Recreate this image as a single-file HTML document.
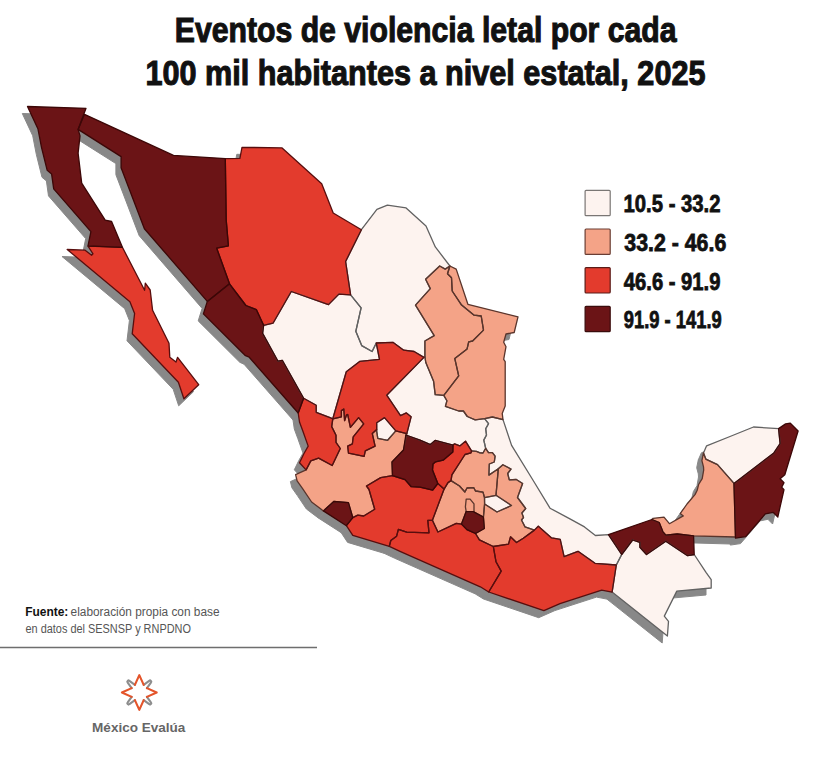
<!DOCTYPE html>
<html><head><meta charset="utf-8"><title>Eventos de violencia letal</title>
<style>
html,body{margin:0;padding:0;background:#fff;}
body{width:828px;height:767px;overflow:hidden;}
svg{display:block;}
</style></head><body>
<svg width="828" height="767" viewBox="0 0 828 767">
<rect width="828" height="767" fill="#fff"/>
<g font-family="'Liberation Sans', sans-serif" font-weight="bold" font-size="35.5" fill="#111" stroke="#111" stroke-width="1.1">
<text x="174.83" y="41.9" textLength="501.73" lengthAdjust="spacingAndGlyphs">Eventos de violencia letal por cada</text>
<text x="145.52" y="84.6" textLength="559.98" lengthAdjust="spacingAndGlyphs">100 mil habitantes a nivel estatal, 2025</text>
</g>
<g fill="#888" stroke="#888" stroke-width="1" stroke-linejoin="round" transform="translate(-5.2,7)">
<polygon points="27.5,106.5 86,108.3 78.1,129.4 80,135.9 78.1,153.1 81.7,183.2 105.2,220.1 111.6,221.5 122.4,247.3 88,245.8 90.9,231.6 53.7,188.9 51.6,173.9 47.2,170.3 41.5,147.3 37.9,128.7"/>
<polygon points="67.2,249.5 85.1,250.2 91.6,255.2 93,253.8 88,246.2 122.4,247.3 144.6,290.3 145.3,283.2 150.2,290 152.6,310.3 169,343.2 169.8,357.3 176,362 177.6,357.3 198.7,384.7 183.9,398.8 178.4,382.3 132.2,333.8 134.6,313.5 129.9,301.7"/>
<polygon points="84.5,114.3 173.5,155.4 225.3,158.6 226.2,220 228.4,245.8 216.7,248.2 229.5,283.8 207.3,301.4 144.4,228.7 121.1,167.7 121.1,156.6 78.1,129.4"/>
<polygon points="225.3,158.6 239.9,158.4 242,147.3 282.1,147.9 321.7,183.8 333.2,213 361.4,229.7 345.6,261.5 350.6,294.8 338.9,294.1 328.5,304.6 291.3,291.5 273,323.2 263.6,325.3 256.3,309.6 245.9,305.5 229.5,283.8 216.7,248.2 228.4,245.8 226.2,220"/>
<polygon points="207.3,301.4 229.5,283.8 245.9,305.5 256.3,309.6 263.6,325.3 262.6,333.4 278,361.2 282.3,360.3 303.6,398.2 298.2,413 249.2,357.2 245,355.3 203.4,313.9"/>
<polygon points="263.6,325.3 273,323.2 291.3,291.5 328.5,304.6 338.9,294.1 350.6,294.8 361.1,307.8 355.8,331.3 361.7,345.6 372.1,351.5 376.3,343 379.5,359.3 360,361.3 346.3,371.7 332.8,418.8 330,417.7 316.2,412.3 316.2,405.2 303.6,398.2 282.3,360.3 278,361.2 262.6,333.4"/>
<polygon points="361.4,229.7 376.9,209.4 387.4,205.2 406.1,207.9 426,226.1 435.3,246.9 449.9,266 445.2,269.1 439.7,266 425.6,279.2 430.3,288.6 415.5,305.1 434.2,335.6 424.9,341 424.9,356.7 423.9,357.4 414.1,351.5 403.7,350.2 393.2,342.4 376.3,343 372.1,351.5 361.7,345.6 355.8,331.3 361.1,307.8 350.6,294.8 345.6,261.5"/>
<polygon points="439.7,266 445.2,269.1 449.9,266 447.5,273.8 451.5,277.7 452.2,291 461.6,305.1 474.1,315.2 481.2,316 483.5,330.1 472.6,341 468.7,341.8 467.1,348.9 454.8,358.6 458.7,375.8 443.8,395.4 435.2,394.6 433.6,381.3 425.8,362.5 424.9,356.7 424.9,341 434.2,335.6 415.5,305.1 430.3,288.6 425.6,279.2"/>
<polygon points="449.9,266 456.2,269.1 467.9,304.3 518,316.8 514.2,332.5 506,334 503.7,342.2 506,346.7 503.7,359.4 505.2,361.7 505.2,405.9 502.2,413.4 503,419.6 492.4,417 484.6,418.6 475.2,419.8 467.3,416.5 463.4,411 458.7,411 445.4,406.3 446.9,400.8 443.8,395.4 458.7,375.8 454.8,358.6 467.1,348.9 468.7,341.8 472.6,341 483.5,330.1 481.2,316 474.1,315.2 461.6,305.1 452.2,291 451.5,277.7 447.5,273.8"/>
<polygon points="423.9,357.4 424.9,356.7 425.8,362.5 433.6,381.3 435.2,394.6 443.8,395.4 446.9,400.8 445.4,406.3 458.7,411 463.4,411 467.3,416.5 475.2,419.8 484.6,418.6 488.5,423.7 485.7,428.8 486.5,435 483.8,440.1 485.7,448.3 483,453 480,452.9 476.5,451.4 471.5,450.8 465.5,441.2 459.8,445.9 454.6,443.8 453,445.1 435.1,440.4 430.4,444.6 420,440.2 405.8,435 406.8,433.6 411.1,416.8 406.4,412.9 400.5,415.6 386.7,395.2"/>
<polygon points="376.3,343 393.2,342.4 403.7,350.2 414.1,351.5 423.9,357.4 386.7,395.2 400.5,415.6 406.4,412.9 411.1,416.8 406.8,433.6 395.8,430.9 384.5,417.6 376.7,422.7 376.7,429.5 372.3,433.6 375.1,446.2 365.3,450.9 364.1,456.3 348.5,453.2 347.7,446.2 352.4,443.8 353.2,436.8 363.7,423.9 358.6,417.6 350.4,427.4 347.7,414.5 346.5,414.9 344.6,420.7 343.8,409 341.4,410.6 341.4,416.8 332.8,418.8 346.3,371.7 360,361.3 379.5,359.3"/>
<polygon points="376.7,422.7 384.5,417.6 395.8,430.9 387.6,440.3 377.8,438.3 376.7,431.3"/>
<polygon points="303.6,398.2 316.2,405.2 316.2,412.3 330,417.7 332.8,418.8 331.7,426.6 336,435.2 336,442.3 340.3,448.5 332.2,465.5 318.6,458.1 310.8,460.9 306.1,469.9 299.5,462.8 304,453.5 308.2,446.1 303,431.5 299.5,422 298.2,413"/>
<polygon points="306.1,469.9 310.8,460.9 318.6,458.1 332.2,465.5 340.3,448.5 336,442.3 336,435.2 331.7,426.6 332.8,418.8 341.4,416.8 341.4,410.6 343.8,409 344.6,420.7 346.5,414.9 347.7,414.5 350.4,427.4 358.6,417.6 363.7,423.9 353.2,436.8 352.4,443.8 347.7,446.2 348.5,453.2 364.1,456.3 365.3,450.9 375.1,446.2 372.3,433.6 376.7,429.5 376.7,431.3 377.8,438.3 387.6,440.3 395.8,430.9 406.8,433.6 403.5,450 392,462 392.5,475.7 380.7,477.6 366.5,486 369,489.5 374.7,509.2 363.7,516 357.8,515.1 352.8,517.7 348.4,502.6 333.8,501.5 323.4,510.9 311.6,502 302.6,488.6 297.1,480.8 295.6,474.6"/>
<polygon points="323.4,510.9 333.8,501.5 348.4,502.6 352.8,517.7 346.4,525.7"/>
<polygon points="346.4,525.7 352.8,517.7 357.8,515.1 363.7,516 374.7,509.2 369,489.5 366.5,486 380.7,477.6 392.5,475.7 405,479.6 411.3,486.7 420,487.2 432.7,490.1 437.8,483.5 444.1,489.1 432.4,520.3 427.8,520.4 429,532.8 406.7,532.2 398.4,529.3 396.6,536.2 390.8,540.5 389.3,546.3 352.8,535.4"/>
<polygon points="405.8,435 420,440.2 430.4,444.6 435.1,440.4 453,445.1 452.8,451.9 443.1,460.2 435.6,461.8 433,463.9 432.5,470 437.8,483.5 432.7,490.1 420,487.2 411.3,486.7 405,479.6 392.5,475.7 392,462 403.5,450"/>
<polygon points="453,445.1 454.6,443.8 459.8,445.9 465.5,441.2 471.5,450.8 471,452.9 465,454.5 451.9,474.8 451,480.6 448,482.6 444.1,489.1 437.8,483.5 432.5,470 433,463.9 435.6,461.8 443.1,460.2 452.8,451.9"/>
<polygon points="471.5,450.8 476.5,451.4 480,452.9 483,453 485.7,448.3 488.5,452.6 492.4,452.6 495.1,456.2 494.3,462 489.3,464 488.9,475.1 498.3,468.8 496,495.4 484.5,497.6 483,492.2 475.5,491 473.8,487.7 467,488 464.9,492 459.5,486 451,480.6 451.9,474.8 465,454.5 471,452.9"/>
<polygon points="484.6,418.6 492.4,417 503,419.6 511.6,445.4 532.9,480 550,508.2 570.4,519.1 584.5,526.9 595.4,535.5 608.5,534.6 621.7,554.5 616.3,565 595,563.3 578,551.3 564.1,556.7 560.2,539.4 551.6,537.9 538.3,526.2 534.4,530.1 525,526.9 521.5,520 523.5,517.5 521.9,513 525.7,508.5 517.5,497.5 522.6,483.5 516.3,479.5 509.3,479.8 507.7,473.5 511,469 502.9,464.7 498.3,468.8 488.9,475.1 489.3,464 494.3,462 495.1,456.2 492.4,452.6 488.5,452.6 485.7,448.3 483.8,440.1 486.5,435 485.7,428.8 488.5,423.7"/>
<polygon points="498.3,468.8 502.9,464.7 511,469 507.7,473.5 509.3,479.8 516.3,479.5 522.6,483.5 517.5,497.5 525.7,508.5 521.9,513 523.5,517.5 521.5,520 525,526.9 534.4,530.1 523.3,538.2 516.5,542.5 510.5,536.8 508.5,544.2 493.3,546.5 479.4,539.8 475.5,533.5 484.3,528.5 483.4,517.1 484.6,504 497,512 511.5,505.5 496,495.3"/>
<polygon points="448,482.6 451,480.6 459.5,486 464.9,492 467,488 473.8,487.7 475.5,491 483,492.2 484.5,497.6 484.6,504 483.4,517.1 473.2,511.6 466.2,511.6 461.5,524.1 456.3,523.4 437.9,532 432.4,520.3 444.1,489.1"/>
<polygon points="466.2,499.1 470.1,499.1 474,503.8 474,511.6 466.2,511.6 465.4,506.9"/>
<polygon points="466.2,511.6 473.2,511.6 483.4,517.1 484.3,528.5 475.5,533.5 466.9,529.6 461.5,524.1"/>
<polygon points="484.5,497.6 496,495.3 511.5,505.5 497,512 484.6,504"/>
<polygon points="389.3,546.3 390.8,540.5 396.6,536.2 398.4,529.3 406.7,532.2 429,532.8 427.8,520.4 432.4,520.3 437.9,532 456.3,523.4 461.5,524.1 466.9,529.6 475.5,533.5 479.4,539.8 493.3,546.5 496,561.7 501.2,571.1 488.7,592 480.3,586.8 400,551.3"/>
<polygon points="493.3,546.5 508.5,544.2 510.5,536.8 516.5,542.5 523.3,538.2 534.4,530.1 538.3,526.2 551.6,537.9 560.2,539.4 564.1,556.7 578,551.3 595,563.3 616.3,565 612.1,592.1 601.7,590.1 560,603.6 543.9,610.7 488.7,592 501.2,571.1 496,561.7"/>
<polygon points="608.5,534.6 651.9,519.5 659.2,522.5 662.8,531.6 665.8,535.2 677.3,534 693.6,535.8 694.2,554.5 687.6,555.7 665.8,541.2 646.5,554.5 639.9,547.3 639.9,542.4 632.6,540 621.7,554.5"/>
<polygon points="616.3,565 621.7,554.5 632.6,540 639.9,542.4 639.9,547.3 646.5,554.5 665.8,541.2 687.6,555.7 694.2,554.5 706,572.3 711.2,579.6 711.2,588 676.8,591.1 664.3,616.1 668.5,621.4 667.4,636 612.1,592.1"/>
<polygon points="703.5,452.9 705.8,459.1 717.5,464.6 734,483.4 735.5,537 693.6,535.8 677.3,534 665.8,535.2 662.8,531.6 659.2,522.5 651.9,519.5 653.1,518.3 664,517.1 669.4,523.7 683.3,515.9 680.3,513.5 687,504 695,494.6 697.2,490.3 698.6,484.5 702.2,478.7 703.7,470 703.5,466.9 701.9,460.7"/>
<polygon points="706.6,445.8 730,436.5 753.5,427 778.6,428.6 780.1,443.5 773.9,452.9 734,483.4 717.5,464.6 705.8,459.1 703.5,452.9"/>
<polygon points="778.6,428.6 785.6,423.9 790.3,423.1 798.1,431 784.8,474.8 780.1,478.7 784,482.6 781.7,487.3 784,489.6 777.8,517 773.1,512.3 765.3,513.9 745.7,536.6 735.5,538.1 734,483.4 773.9,452.9 780.1,443.5"/>
</g>
<g>
<polygon fill="#6b1416" points="27.5,106.5 86,108.3 78.1,129.4 80,135.9 78.1,153.1 81.7,183.2 105.2,220.1 111.6,221.5 122.4,247.3 88,245.8 90.9,231.6 53.7,188.9 51.6,173.9 47.2,170.3 41.5,147.3 37.9,128.7"/>
<polygon fill="#e33b2d" points="67.2,249.5 85.1,250.2 91.6,255.2 93,253.8 88,246.2 122.4,247.3 144.6,290.3 145.3,283.2 150.2,290 152.6,310.3 169,343.2 169.8,357.3 176,362 177.6,357.3 198.7,384.7 183.9,398.8 178.4,382.3 132.2,333.8 134.6,313.5 129.9,301.7"/>
<polygon fill="#6b1416" points="84.5,114.3 173.5,155.4 225.3,158.6 226.2,220 228.4,245.8 216.7,248.2 229.5,283.8 207.3,301.4 144.4,228.7 121.1,167.7 121.1,156.6 78.1,129.4"/>
<polygon fill="#e33b2d" points="225.3,158.6 239.9,158.4 242,147.3 282.1,147.9 321.7,183.8 333.2,213 361.4,229.7 345.6,261.5 350.6,294.8 338.9,294.1 328.5,304.6 291.3,291.5 273,323.2 263.6,325.3 256.3,309.6 245.9,305.5 229.5,283.8 216.7,248.2 228.4,245.8 226.2,220"/>
<polygon fill="#6b1416" points="207.3,301.4 229.5,283.8 245.9,305.5 256.3,309.6 263.6,325.3 262.6,333.4 278,361.2 282.3,360.3 303.6,398.2 298.2,413 249.2,357.2 245,355.3 203.4,313.9"/>
<polygon fill="#fdf3ef" points="263.6,325.3 273,323.2 291.3,291.5 328.5,304.6 338.9,294.1 350.6,294.8 361.1,307.8 355.8,331.3 361.7,345.6 372.1,351.5 376.3,343 379.5,359.3 360,361.3 346.3,371.7 332.8,418.8 330,417.7 316.2,412.3 316.2,405.2 303.6,398.2 282.3,360.3 278,361.2 262.6,333.4"/>
<polygon fill="#fdf3ef" points="361.4,229.7 376.9,209.4 387.4,205.2 406.1,207.9 426,226.1 435.3,246.9 449.9,266 445.2,269.1 439.7,266 425.6,279.2 430.3,288.6 415.5,305.1 434.2,335.6 424.9,341 424.9,356.7 423.9,357.4 414.1,351.5 403.7,350.2 393.2,342.4 376.3,343 372.1,351.5 361.7,345.6 355.8,331.3 361.1,307.8 350.6,294.8 345.6,261.5"/>
<polygon fill="#f4a387" points="439.7,266 445.2,269.1 449.9,266 447.5,273.8 451.5,277.7 452.2,291 461.6,305.1 474.1,315.2 481.2,316 483.5,330.1 472.6,341 468.7,341.8 467.1,348.9 454.8,358.6 458.7,375.8 443.8,395.4 435.2,394.6 433.6,381.3 425.8,362.5 424.9,356.7 424.9,341 434.2,335.6 415.5,305.1 430.3,288.6 425.6,279.2"/>
<polygon fill="#f4a387" points="449.9,266 456.2,269.1 467.9,304.3 518,316.8 514.2,332.5 506,334 503.7,342.2 506,346.7 503.7,359.4 505.2,361.7 505.2,405.9 502.2,413.4 503,419.6 492.4,417 484.6,418.6 475.2,419.8 467.3,416.5 463.4,411 458.7,411 445.4,406.3 446.9,400.8 443.8,395.4 458.7,375.8 454.8,358.6 467.1,348.9 468.7,341.8 472.6,341 483.5,330.1 481.2,316 474.1,315.2 461.6,305.1 452.2,291 451.5,277.7 447.5,273.8"/>
<polygon fill="#fdf3ef" points="423.9,357.4 424.9,356.7 425.8,362.5 433.6,381.3 435.2,394.6 443.8,395.4 446.9,400.8 445.4,406.3 458.7,411 463.4,411 467.3,416.5 475.2,419.8 484.6,418.6 488.5,423.7 485.7,428.8 486.5,435 483.8,440.1 485.7,448.3 483,453 480,452.9 476.5,451.4 471.5,450.8 465.5,441.2 459.8,445.9 454.6,443.8 453,445.1 435.1,440.4 430.4,444.6 420,440.2 405.8,435 406.8,433.6 411.1,416.8 406.4,412.9 400.5,415.6 386.7,395.2"/>
<polygon fill="#e33b2d" points="376.3,343 393.2,342.4 403.7,350.2 414.1,351.5 423.9,357.4 386.7,395.2 400.5,415.6 406.4,412.9 411.1,416.8 406.8,433.6 395.8,430.9 384.5,417.6 376.7,422.7 376.7,429.5 372.3,433.6 375.1,446.2 365.3,450.9 364.1,456.3 348.5,453.2 347.7,446.2 352.4,443.8 353.2,436.8 363.7,423.9 358.6,417.6 350.4,427.4 347.7,414.5 346.5,414.9 344.6,420.7 343.8,409 341.4,410.6 341.4,416.8 332.8,418.8 346.3,371.7 360,361.3 379.5,359.3"/>
<polygon fill="#fdf3ef" points="376.7,422.7 384.5,417.6 395.8,430.9 387.6,440.3 377.8,438.3 376.7,431.3"/>
<polygon fill="#e33b2d" points="303.6,398.2 316.2,405.2 316.2,412.3 330,417.7 332.8,418.8 331.7,426.6 336,435.2 336,442.3 340.3,448.5 332.2,465.5 318.6,458.1 310.8,460.9 306.1,469.9 299.5,462.8 304,453.5 308.2,446.1 303,431.5 299.5,422 298.2,413"/>
<polygon fill="#f4a387" points="306.1,469.9 310.8,460.9 318.6,458.1 332.2,465.5 340.3,448.5 336,442.3 336,435.2 331.7,426.6 332.8,418.8 341.4,416.8 341.4,410.6 343.8,409 344.6,420.7 346.5,414.9 347.7,414.5 350.4,427.4 358.6,417.6 363.7,423.9 353.2,436.8 352.4,443.8 347.7,446.2 348.5,453.2 364.1,456.3 365.3,450.9 375.1,446.2 372.3,433.6 376.7,429.5 376.7,431.3 377.8,438.3 387.6,440.3 395.8,430.9 406.8,433.6 403.5,450 392,462 392.5,475.7 380.7,477.6 366.5,486 369,489.5 374.7,509.2 363.7,516 357.8,515.1 352.8,517.7 348.4,502.6 333.8,501.5 323.4,510.9 311.6,502 302.6,488.6 297.1,480.8 295.6,474.6"/>
<polygon fill="#6b1416" points="323.4,510.9 333.8,501.5 348.4,502.6 352.8,517.7 346.4,525.7"/>
<polygon fill="#e33b2d" points="346.4,525.7 352.8,517.7 357.8,515.1 363.7,516 374.7,509.2 369,489.5 366.5,486 380.7,477.6 392.5,475.7 405,479.6 411.3,486.7 420,487.2 432.7,490.1 437.8,483.5 444.1,489.1 432.4,520.3 427.8,520.4 429,532.8 406.7,532.2 398.4,529.3 396.6,536.2 390.8,540.5 389.3,546.3 352.8,535.4"/>
<polygon fill="#6b1416" points="405.8,435 420,440.2 430.4,444.6 435.1,440.4 453,445.1 452.8,451.9 443.1,460.2 435.6,461.8 433,463.9 432.5,470 437.8,483.5 432.7,490.1 420,487.2 411.3,486.7 405,479.6 392.5,475.7 392,462 403.5,450"/>
<polygon fill="#e33b2d" points="453,445.1 454.6,443.8 459.8,445.9 465.5,441.2 471.5,450.8 471,452.9 465,454.5 451.9,474.8 451,480.6 448,482.6 444.1,489.1 437.8,483.5 432.5,470 433,463.9 435.6,461.8 443.1,460.2 452.8,451.9"/>
<polygon fill="#f4a387" points="471.5,450.8 476.5,451.4 480,452.9 483,453 485.7,448.3 488.5,452.6 492.4,452.6 495.1,456.2 494.3,462 489.3,464 488.9,475.1 498.3,468.8 496,495.4 484.5,497.6 483,492.2 475.5,491 473.8,487.7 467,488 464.9,492 459.5,486 451,480.6 451.9,474.8 465,454.5 471,452.9"/>
<polygon fill="#fdf3ef" points="484.6,418.6 492.4,417 503,419.6 511.6,445.4 532.9,480 550,508.2 570.4,519.1 584.5,526.9 595.4,535.5 608.5,534.6 621.7,554.5 616.3,565 595,563.3 578,551.3 564.1,556.7 560.2,539.4 551.6,537.9 538.3,526.2 534.4,530.1 525,526.9 521.5,520 523.5,517.5 521.9,513 525.7,508.5 517.5,497.5 522.6,483.5 516.3,479.5 509.3,479.8 507.7,473.5 511,469 502.9,464.7 498.3,468.8 488.9,475.1 489.3,464 494.3,462 495.1,456.2 492.4,452.6 488.5,452.6 485.7,448.3 483.8,440.1 486.5,435 485.7,428.8 488.5,423.7"/>
<polygon fill="#f4a387" points="498.3,468.8 502.9,464.7 511,469 507.7,473.5 509.3,479.8 516.3,479.5 522.6,483.5 517.5,497.5 525.7,508.5 521.9,513 523.5,517.5 521.5,520 525,526.9 534.4,530.1 523.3,538.2 516.5,542.5 510.5,536.8 508.5,544.2 493.3,546.5 479.4,539.8 475.5,533.5 484.3,528.5 483.4,517.1 484.6,504 497,512 511.5,505.5 496,495.3"/>
<polygon fill="#f4a387" points="448,482.6 451,480.6 459.5,486 464.9,492 467,488 473.8,487.7 475.5,491 483,492.2 484.5,497.6 484.6,504 483.4,517.1 473.2,511.6 466.2,511.6 461.5,524.1 456.3,523.4 437.9,532 432.4,520.3 444.1,489.1"/>
<polygon fill="#f4a387" points="466.2,499.1 470.1,499.1 474,503.8 474,511.6 466.2,511.6 465.4,506.9"/>
<polygon fill="#6b1416" points="466.2,511.6 473.2,511.6 483.4,517.1 484.3,528.5 475.5,533.5 466.9,529.6 461.5,524.1"/>
<polygon fill="#fdf3ef" points="484.5,497.6 496,495.3 511.5,505.5 497,512 484.6,504"/>
<polygon fill="#e33b2d" points="389.3,546.3 390.8,540.5 396.6,536.2 398.4,529.3 406.7,532.2 429,532.8 427.8,520.4 432.4,520.3 437.9,532 456.3,523.4 461.5,524.1 466.9,529.6 475.5,533.5 479.4,539.8 493.3,546.5 496,561.7 501.2,571.1 488.7,592 480.3,586.8 400,551.3"/>
<polygon fill="#e33b2d" points="493.3,546.5 508.5,544.2 510.5,536.8 516.5,542.5 523.3,538.2 534.4,530.1 538.3,526.2 551.6,537.9 560.2,539.4 564.1,556.7 578,551.3 595,563.3 616.3,565 612.1,592.1 601.7,590.1 560,603.6 543.9,610.7 488.7,592 501.2,571.1 496,561.7"/>
<polygon fill="#6b1416" points="608.5,534.6 651.9,519.5 659.2,522.5 662.8,531.6 665.8,535.2 677.3,534 693.6,535.8 694.2,554.5 687.6,555.7 665.8,541.2 646.5,554.5 639.9,547.3 639.9,542.4 632.6,540 621.7,554.5"/>
<polygon fill="#fdf3ef" points="616.3,565 621.7,554.5 632.6,540 639.9,542.4 639.9,547.3 646.5,554.5 665.8,541.2 687.6,555.7 694.2,554.5 706,572.3 711.2,579.6 711.2,588 676.8,591.1 664.3,616.1 668.5,621.4 667.4,636 612.1,592.1"/>
<polygon fill="#f4a387" points="703.5,452.9 705.8,459.1 717.5,464.6 734,483.4 735.5,537 693.6,535.8 677.3,534 665.8,535.2 662.8,531.6 659.2,522.5 651.9,519.5 653.1,518.3 664,517.1 669.4,523.7 683.3,515.9 680.3,513.5 687,504 695,494.6 697.2,490.3 698.6,484.5 702.2,478.7 703.7,470 703.5,466.9 701.9,460.7"/>
<polygon fill="#fdf3ef" points="706.6,445.8 730,436.5 753.5,427 778.6,428.6 780.1,443.5 773.9,452.9 734,483.4 717.5,464.6 705.8,459.1 703.5,452.9"/>
<polygon fill="#6b1416" points="778.6,428.6 785.6,423.9 790.3,423.1 798.1,431 784.8,474.8 780.1,478.7 784,482.6 781.7,487.3 784,489.6 777.8,517 773.1,512.3 765.3,513.9 745.7,536.6 735.5,538.1 734,483.4 773.9,452.9 780.1,443.5"/>
</g>
<g fill="none" stroke-width="1.3" stroke-linejoin="round">
<g stroke="#626262">
<polygon points="263.6,325.3 273,323.2 291.3,291.5 328.5,304.6 338.9,294.1 350.6,294.8 361.1,307.8 355.8,331.3 361.7,345.6 372.1,351.5 376.3,343 379.5,359.3 360,361.3 346.3,371.7 332.8,418.8 330,417.7 316.2,412.3 316.2,405.2 303.6,398.2 282.3,360.3 278,361.2 262.6,333.4"/>
<polygon points="361.4,229.7 376.9,209.4 387.4,205.2 406.1,207.9 426,226.1 435.3,246.9 449.9,266 445.2,269.1 439.7,266 425.6,279.2 430.3,288.6 415.5,305.1 434.2,335.6 424.9,341 424.9,356.7 423.9,357.4 414.1,351.5 403.7,350.2 393.2,342.4 376.3,343 372.1,351.5 361.7,345.6 355.8,331.3 361.1,307.8 350.6,294.8 345.6,261.5"/>
<polygon points="423.9,357.4 424.9,356.7 425.8,362.5 433.6,381.3 435.2,394.6 443.8,395.4 446.9,400.8 445.4,406.3 458.7,411 463.4,411 467.3,416.5 475.2,419.8 484.6,418.6 488.5,423.7 485.7,428.8 486.5,435 483.8,440.1 485.7,448.3 483,453 480,452.9 476.5,451.4 471.5,450.8 465.5,441.2 459.8,445.9 454.6,443.8 453,445.1 435.1,440.4 430.4,444.6 420,440.2 405.8,435 406.8,433.6 411.1,416.8 406.4,412.9 400.5,415.6 386.7,395.2"/>
<polygon points="376.7,422.7 384.5,417.6 395.8,430.9 387.6,440.3 377.8,438.3 376.7,431.3"/>
<polygon points="484.6,418.6 492.4,417 503,419.6 511.6,445.4 532.9,480 550,508.2 570.4,519.1 584.5,526.9 595.4,535.5 608.5,534.6 621.7,554.5 616.3,565 595,563.3 578,551.3 564.1,556.7 560.2,539.4 551.6,537.9 538.3,526.2 534.4,530.1 525,526.9 521.5,520 523.5,517.5 521.9,513 525.7,508.5 517.5,497.5 522.6,483.5 516.3,479.5 509.3,479.8 507.7,473.5 511,469 502.9,464.7 498.3,468.8 488.9,475.1 489.3,464 494.3,462 495.1,456.2 492.4,452.6 488.5,452.6 485.7,448.3 483.8,440.1 486.5,435 485.7,428.8 488.5,423.7"/>
<polygon points="484.5,497.6 496,495.3 511.5,505.5 497,512 484.6,504"/>
<polygon points="616.3,565 621.7,554.5 632.6,540 639.9,542.4 639.9,547.3 646.5,554.5 665.8,541.2 687.6,555.7 694.2,554.5 706,572.3 711.2,579.6 711.2,588 676.8,591.1 664.3,616.1 668.5,621.4 667.4,636 612.1,592.1"/>
<polygon points="706.6,445.8 730,436.5 753.5,427 778.6,428.6 780.1,443.5 773.9,452.9 734,483.4 717.5,464.6 705.8,459.1 703.5,452.9"/>
</g>
<g stroke="#5a352c">
<polygon points="439.7,266 445.2,269.1 449.9,266 447.5,273.8 451.5,277.7 452.2,291 461.6,305.1 474.1,315.2 481.2,316 483.5,330.1 472.6,341 468.7,341.8 467.1,348.9 454.8,358.6 458.7,375.8 443.8,395.4 435.2,394.6 433.6,381.3 425.8,362.5 424.9,356.7 424.9,341 434.2,335.6 415.5,305.1 430.3,288.6 425.6,279.2"/>
<polygon points="449.9,266 456.2,269.1 467.9,304.3 518,316.8 514.2,332.5 506,334 503.7,342.2 506,346.7 503.7,359.4 505.2,361.7 505.2,405.9 502.2,413.4 503,419.6 492.4,417 484.6,418.6 475.2,419.8 467.3,416.5 463.4,411 458.7,411 445.4,406.3 446.9,400.8 443.8,395.4 458.7,375.8 454.8,358.6 467.1,348.9 468.7,341.8 472.6,341 483.5,330.1 481.2,316 474.1,315.2 461.6,305.1 452.2,291 451.5,277.7 447.5,273.8"/>
<polygon points="306.1,469.9 310.8,460.9 318.6,458.1 332.2,465.5 340.3,448.5 336,442.3 336,435.2 331.7,426.6 332.8,418.8 341.4,416.8 341.4,410.6 343.8,409 344.6,420.7 346.5,414.9 347.7,414.5 350.4,427.4 358.6,417.6 363.7,423.9 353.2,436.8 352.4,443.8 347.7,446.2 348.5,453.2 364.1,456.3 365.3,450.9 375.1,446.2 372.3,433.6 376.7,429.5 376.7,431.3 377.8,438.3 387.6,440.3 395.8,430.9 406.8,433.6 403.5,450 392,462 392.5,475.7 380.7,477.6 366.5,486 369,489.5 374.7,509.2 363.7,516 357.8,515.1 352.8,517.7 348.4,502.6 333.8,501.5 323.4,510.9 311.6,502 302.6,488.6 297.1,480.8 295.6,474.6"/>
<polygon points="471.5,450.8 476.5,451.4 480,452.9 483,453 485.7,448.3 488.5,452.6 492.4,452.6 495.1,456.2 494.3,462 489.3,464 488.9,475.1 498.3,468.8 496,495.4 484.5,497.6 483,492.2 475.5,491 473.8,487.7 467,488 464.9,492 459.5,486 451,480.6 451.9,474.8 465,454.5 471,452.9"/>
<polygon points="498.3,468.8 502.9,464.7 511,469 507.7,473.5 509.3,479.8 516.3,479.5 522.6,483.5 517.5,497.5 525.7,508.5 521.9,513 523.5,517.5 521.5,520 525,526.9 534.4,530.1 523.3,538.2 516.5,542.5 510.5,536.8 508.5,544.2 493.3,546.5 479.4,539.8 475.5,533.5 484.3,528.5 483.4,517.1 484.6,504 497,512 511.5,505.5 496,495.3"/>
<polygon points="448,482.6 451,480.6 459.5,486 464.9,492 467,488 473.8,487.7 475.5,491 483,492.2 484.5,497.6 484.6,504 483.4,517.1 473.2,511.6 466.2,511.6 461.5,524.1 456.3,523.4 437.9,532 432.4,520.3 444.1,489.1"/>
<polygon points="466.2,499.1 470.1,499.1 474,503.8 474,511.6 466.2,511.6 465.4,506.9"/>
<polygon points="703.5,452.9 705.8,459.1 717.5,464.6 734,483.4 735.5,537 693.6,535.8 677.3,534 665.8,535.2 662.8,531.6 659.2,522.5 651.9,519.5 653.1,518.3 664,517.1 669.4,523.7 683.3,515.9 680.3,513.5 687,504 695,494.6 697.2,490.3 698.6,484.5 702.2,478.7 703.7,470 703.5,466.9 701.9,460.7"/>
</g>
<g stroke="#580e0e">
<polygon points="67.2,249.5 85.1,250.2 91.6,255.2 93,253.8 88,246.2 122.4,247.3 144.6,290.3 145.3,283.2 150.2,290 152.6,310.3 169,343.2 169.8,357.3 176,362 177.6,357.3 198.7,384.7 183.9,398.8 178.4,382.3 132.2,333.8 134.6,313.5 129.9,301.7"/>
<polygon points="225.3,158.6 239.9,158.4 242,147.3 282.1,147.9 321.7,183.8 333.2,213 361.4,229.7 345.6,261.5 350.6,294.8 338.9,294.1 328.5,304.6 291.3,291.5 273,323.2 263.6,325.3 256.3,309.6 245.9,305.5 229.5,283.8 216.7,248.2 228.4,245.8 226.2,220"/>
<polygon points="376.3,343 393.2,342.4 403.7,350.2 414.1,351.5 423.9,357.4 386.7,395.2 400.5,415.6 406.4,412.9 411.1,416.8 406.8,433.6 395.8,430.9 384.5,417.6 376.7,422.7 376.7,429.5 372.3,433.6 375.1,446.2 365.3,450.9 364.1,456.3 348.5,453.2 347.7,446.2 352.4,443.8 353.2,436.8 363.7,423.9 358.6,417.6 350.4,427.4 347.7,414.5 346.5,414.9 344.6,420.7 343.8,409 341.4,410.6 341.4,416.8 332.8,418.8 346.3,371.7 360,361.3 379.5,359.3"/>
<polygon points="303.6,398.2 316.2,405.2 316.2,412.3 330,417.7 332.8,418.8 331.7,426.6 336,435.2 336,442.3 340.3,448.5 332.2,465.5 318.6,458.1 310.8,460.9 306.1,469.9 299.5,462.8 304,453.5 308.2,446.1 303,431.5 299.5,422 298.2,413"/>
<polygon points="346.4,525.7 352.8,517.7 357.8,515.1 363.7,516 374.7,509.2 369,489.5 366.5,486 380.7,477.6 392.5,475.7 405,479.6 411.3,486.7 420,487.2 432.7,490.1 437.8,483.5 444.1,489.1 432.4,520.3 427.8,520.4 429,532.8 406.7,532.2 398.4,529.3 396.6,536.2 390.8,540.5 389.3,546.3 352.8,535.4"/>
<polygon points="453,445.1 454.6,443.8 459.8,445.9 465.5,441.2 471.5,450.8 471,452.9 465,454.5 451.9,474.8 451,480.6 448,482.6 444.1,489.1 437.8,483.5 432.5,470 433,463.9 435.6,461.8 443.1,460.2 452.8,451.9"/>
<polygon points="389.3,546.3 390.8,540.5 396.6,536.2 398.4,529.3 406.7,532.2 429,532.8 427.8,520.4 432.4,520.3 437.9,532 456.3,523.4 461.5,524.1 466.9,529.6 475.5,533.5 479.4,539.8 493.3,546.5 496,561.7 501.2,571.1 488.7,592 480.3,586.8 400,551.3"/>
<polygon points="493.3,546.5 508.5,544.2 510.5,536.8 516.5,542.5 523.3,538.2 534.4,530.1 538.3,526.2 551.6,537.9 560.2,539.4 564.1,556.7 578,551.3 595,563.3 616.3,565 612.1,592.1 601.7,590.1 560,603.6 543.9,610.7 488.7,592 501.2,571.1 496,561.7"/>
</g>
<g stroke="#3c0707">
<polygon points="27.5,106.5 86,108.3 78.1,129.4 80,135.9 78.1,153.1 81.7,183.2 105.2,220.1 111.6,221.5 122.4,247.3 88,245.8 90.9,231.6 53.7,188.9 51.6,173.9 47.2,170.3 41.5,147.3 37.9,128.7"/>
<polygon points="84.5,114.3 173.5,155.4 225.3,158.6 226.2,220 228.4,245.8 216.7,248.2 229.5,283.8 207.3,301.4 144.4,228.7 121.1,167.7 121.1,156.6 78.1,129.4"/>
<polygon points="207.3,301.4 229.5,283.8 245.9,305.5 256.3,309.6 263.6,325.3 262.6,333.4 278,361.2 282.3,360.3 303.6,398.2 298.2,413 249.2,357.2 245,355.3 203.4,313.9"/>
<polygon points="323.4,510.9 333.8,501.5 348.4,502.6 352.8,517.7 346.4,525.7"/>
<polygon points="405.8,435 420,440.2 430.4,444.6 435.1,440.4 453,445.1 452.8,451.9 443.1,460.2 435.6,461.8 433,463.9 432.5,470 437.8,483.5 432.7,490.1 420,487.2 411.3,486.7 405,479.6 392.5,475.7 392,462 403.5,450"/>
<polygon points="466.2,511.6 473.2,511.6 483.4,517.1 484.3,528.5 475.5,533.5 466.9,529.6 461.5,524.1"/>
<polygon points="608.5,534.6 651.9,519.5 659.2,522.5 662.8,531.6 665.8,535.2 677.3,534 693.6,535.8 694.2,554.5 687.6,555.7 665.8,541.2 646.5,554.5 639.9,547.3 639.9,542.4 632.6,540 621.7,554.5"/>
<polygon points="778.6,428.6 785.6,423.9 790.3,423.1 798.1,431 784.8,474.8 780.1,478.7 784,482.6 781.7,487.3 784,489.6 777.8,517 773.1,512.3 765.3,513.9 745.7,536.6 735.5,538.1 734,483.4 773.9,452.9 780.1,443.5"/>
</g>

</g>
<g stroke-width="1.2">
<rect x="585.1" y="190.3" width="25.1" height="25.4" rx="1" fill="#fdf3ef" stroke="#7a7674"/>
<rect x="585.1" y="229" width="25.1" height="25.4" rx="1" fill="#f4a387" stroke="#6a3e34"/>
<rect x="585.1" y="267.6" width="25.1" height="25.4" rx="1" fill="#e33b2d" stroke="#5a1c18"/>
<rect x="585.1" y="306.3" width="25.1" height="25.4" rx="1" fill="#6b1416" stroke="#3a0c0c"/>
</g>
<g font-family="'Liberation Sans', sans-serif" font-weight="bold" font-size="24.4" fill="#111" stroke="#111" stroke-width="0.8">
<text x="623.52" y="212.3" textLength="96.99" lengthAdjust="spacingAndGlyphs">10.5 - 33.2</text>
<text x="624.31" y="251" textLength="101.96" lengthAdjust="spacingAndGlyphs">33.2 - 46.6</text>
<text x="623.79" y="289.6" textLength="96.66" lengthAdjust="spacingAndGlyphs">46.6 - 91.9</text>
<text x="623.76" y="328.3" textLength="98.02" lengthAdjust="spacingAndGlyphs">91.9 - 141.9</text>
</g>
<g font-family="'Liberation Sans', sans-serif" font-size="12.5" fill="#555">
<g font-weight="bold" fill="#111"><text x="25.2" y="615.9" textLength="43.15" lengthAdjust="spacingAndGlyphs">Fuente:</text></g>
<text x="70.6" y="615.9" textLength="148.93" lengthAdjust="spacingAndGlyphs">elaboración propia con base</text>
<text x="25.54" y="632.5" textLength="165.38" lengthAdjust="spacingAndGlyphs">en datos del SESNSP y RNPDNO</text>
</g>
<line x1="0" y1="647.6" x2="317" y2="647.6" stroke="#6e6e6e" stroke-width="1.5"/>
<g fill="none" stroke-linecap="round" stroke-linejoin="round" stroke-width="2.1">
<path stroke="#8d8d8d" d="M143.70,684.88 L149.20,680.90 A1.2,1.2 0 0 1 150.90,682.60 L146.92,688.10 M146.92,696.90 L150.90,702.40 A1.2,1.2 0 0 1 149.20,704.10 L143.70,700.12 M134.90,700.12 L129.40,704.10 A1.2,1.2 0 0 1 127.70,702.40 L131.68,696.90 M131.68,688.10 L127.70,682.60 A1.2,1.2 0 0 1 129.40,680.90 L134.90,684.88"/>
<path stroke="#e4542a" d="M134.90,684.88 L139.30,675.10 L143.70,684.88 M146.92,688.10 L156.70,692.50 L146.92,696.90 M143.70,700.12 L139.30,709.90 L134.90,700.12 M131.68,696.90 L121.90,692.50 L131.68,688.10"/>
</g>
<g font-family="'Liberation Sans', sans-serif" font-weight="bold" font-size="13.6" fill="#666">
<text x="92.1" y="732.1" textLength="93.22" lengthAdjust="spacingAndGlyphs">México Evalúa</text>
</g>
</svg>
</body></html>
